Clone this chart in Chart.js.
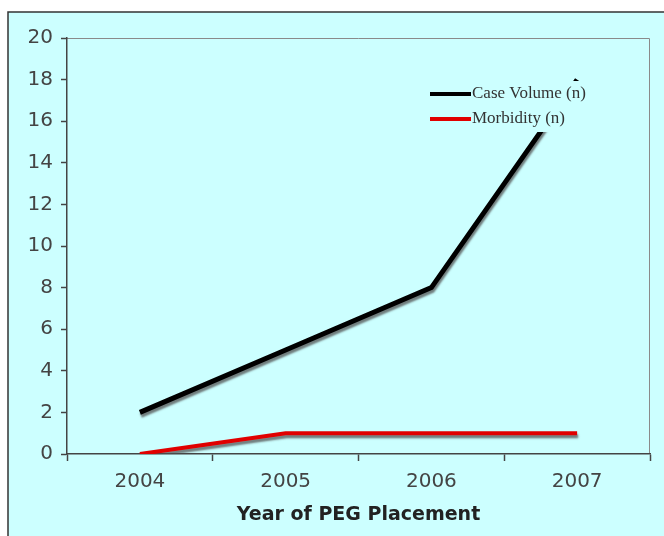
<!DOCTYPE html>
<html><head><meta charset="utf-8">
<script src="https://cdn.jsdelivr.net/npm/chart.js@4/dist/chart.umd.min.js"></script>
<style>html,body{margin:0;padding:0;background:#fff}#wrap{width:664px;height:536px}</style>
</head><body><div id="wrap"><canvas id="c" width="664" height="536"></canvas></div>
<script>
const categories = ['2004', '2005', '2006', '2007'];
const caseVolume = [2, 5, 8, 18];
const morbidity = [0, 1, 1, 1];
const seriesNames = ['Case Volume (n)', 'Morbidity (n)'];
const yTicks = [0, 2, 4, 6, 8, 10, 12, 14, 16, 18, 20];

const framePlugin = {
  id: 'frame',
  beforeDraw(chart) {
    const ctx = chart.ctx;
    ctx.save();
    ctx.fillStyle = '#ffffff';
    ctx.fillRect(0, 0, chart.width, chart.height);
    ctx.fillStyle = '#ccffff';
    ctx.fillRect(8, 12, chart.width, chart.height);
    ctx.strokeStyle = '#333';
    ctx.lineWidth = 1.5;
    ctx.beginPath();
    ctx.moveTo(8, chart.height + 5);
    ctx.lineTo(8, 12);
    ctx.lineTo(chart.width + 5, 12);
    ctx.stroke();
    const a = chart.chartArea;
    ctx.strokeStyle = '#8a8a8a';
    ctx.lineWidth = 1;
    ctx.beginPath();
    ctx.moveTo(a.left, a.top + 0.5);
    ctx.lineTo(a.right - 0.5, a.top + 0.5);
    ctx.lineTo(a.right - 0.5, a.bottom);
    ctx.stroke();
    ctx.restore();
  },
  beforeDatasetDraw(chart) {
    const ctx = chart.ctx;
    ctx.save();
    ctx.shadowColor = 'rgba(80,80,80,0.75)';
    ctx.shadowOffsetX = 1;
    ctx.shadowOffsetY = 3;
    ctx.shadowBlur = 2;
  },
  afterDatasetDraw(chart) {
    chart.ctx.restore();
  },
  afterDatasetsDraw(chart) {
    const ctx = chart.ctx;
    ctx.save();
    ctx.fillStyle = '#ccffff';
    ctx.fillRect(424, 81, 172, 51);
    const x0 = 430, x1 = 471;
    const ys = [94, 119];
    chart.data.datasets.forEach((ds, i) => {
      ctx.strokeStyle = ds.borderColor;
      ctx.lineWidth = 4;
      ctx.beginPath();
      ctx.moveTo(x0, ys[i]);
      ctx.lineTo(x1, ys[i]);
      ctx.stroke();
      ctx.fillStyle = '#333';
      ctx.font = '17px "Liberation Serif", "Times New Roman", serif';
      ctx.textBaseline = 'middle';
      ctx.fillText(ds.label, 472, ys[i]);
    });
    ctx.restore();
  }
};

new Chart(document.getElementById('c'), {
  type: 'line',
  data: {
    labels: categories,
    datasets: [
      { label: seriesNames[0], data: caseVolume, borderColor: '#000000', borderWidth: 5, pointRadius: 0, tension: 0, borderCapStyle: 'butt' },
      { label: seriesNames[1], data: morbidity, borderColor: '#e00000', borderWidth: 4, pointRadius: 0, tension: 0, borderCapStyle: 'butt' }
    ]
  },
  options: {
    responsive: false,
    animation: false,
    layout: { padding: { left: 0, top: 38, right: 14, bottom: 0 } },
    plugins: { legend: { display: false }, tooltip: { enabled: false } },
    scales: {
      x: {
        offset: true,
        grid: { offset: true, drawOnChartArea: false, drawTicks: true, tickLength: 7, color: '#444', tickWidth: 1.5 },
        border: { color: '#444', width: 1.5 },
        ticks: { color: '#444', font: { family: 'DejaVu Sans', size: 20 }, padding: 9 },
        title: { display: true, text: 'Year of PEG Placement', color: '#222', font: { family: 'DejaVu Sans', size: 19, weight: 'bold' }, padding: { top: 4, bottom: 10 } },
        afterFit(s) { s.height = 82; }
      },
      y: {
        min: 0, max: 20,
        afterBuildTicks(s) { s.ticks = yTicks.map(v => ({ value: v })); },
        grid: { drawOnChartArea: false, drawTicks: true, tickLength: 6, color: '#444', tickWidth: 1.5 },
        border: { color: '#444', width: 1.5 },
        ticks: { color: '#444', font: { family: 'DejaVu Sans', size: 20 }, padding: 8 },
        afterFit(s) { s.width = 67; }
      }
    }
  },
  plugins: [framePlugin]
});
</script>
</body></html>
